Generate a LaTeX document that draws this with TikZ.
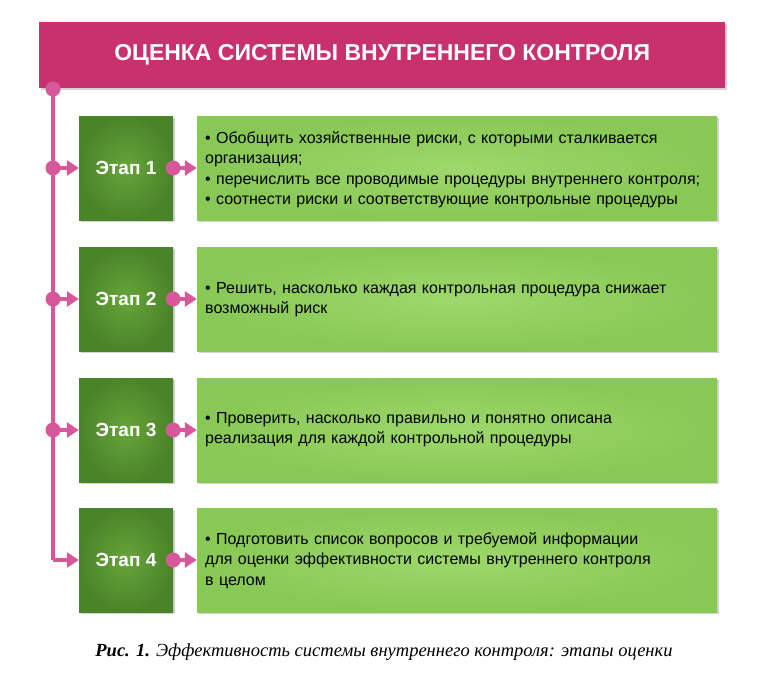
\documentclass[tikz,border=0pt]{standalone}
\usepackage{fontspec}
\setmainfont{Liberation Sans}
\newfontfamily\capfont{Liberation Serif}
\usetikzlibrary{shadows,arrows.meta}
\definecolor{pinkc}{HTML}{C8306E}
\definecolor{linec}{HTML}{D6589A}
\definecolor{dkgreen}{HTML}{4A8428}
\definecolor{dkgreenin}{HTML}{66A53A}
\definecolor{ltgreen}{HTML}{88C854}
\definecolor{ltgreenin}{HTML}{9ED86C}
\begin{document}
\begin{tikzpicture}[x=1pt,y=-1pt,
  stagebox/.style={minimum width=94pt,minimum height=104pt,inner sep=0pt,
    inner color=dkgreenin,outer color=dkgreen,text=white,font=\bfseries\fontsize{19}{22}\selectfont,
    drop shadow={opacity=0.35,shadow xshift=2pt,shadow yshift=-2pt}},
  infobox/.style={minimum width=520pt,minimum height=104pt,inner sep=0pt,
    inner color=ltgreenin,outer color=ltgreen,
    drop shadow={opacity=0.35,shadow xshift=2pt,shadow yshift=-2pt}},
  infotext/.style={anchor=north west,text width=510pt,align=left,inner sep=0pt,
    font=\fontsize{16}{20.5}\selectfont},
  conn/.style={linec,line width=4pt},
  dot/.style={circle,fill=linec,inner sep=0pt,minimum size=15pt},
  tip/.style={-{Triangle[length=12pt,width=15pt]}}]
\useasboundingbox (0,0) rectangle (768,678);
\node[fill=pinkc,minimum width=686pt,minimum height=66pt,inner sep=0pt,anchor=north west,
  drop shadow={opacity=0.35,shadow xshift=2pt,shadow yshift=-2pt},
  text=white,font=\bfseries\fontsize{23}{26}\selectfont] (title) at (39,22) {ОЦЕНКА СИСТЕМЫ ВНУТРЕННЕГО КОНТРОЛЯ};
\coordinate (top) at (53,89);
\node[stagebox] (s1) at (126,168) {Этап 1};
\node[stagebox] (s2) at (126,299) {Этап 2};
\node[stagebox] (s3) at (126,430) {Этап 3};
\node[stagebox] (s4) at (126,560) {Этап 4};
\node[infobox] (b1) at (457,168) {};
\node[infobox] (b2) at (457,299) {};
\node[infobox] (b3) at (457,430) {};
\node[infobox] (b4) at (457,560) {};
\node[infotext] (t1) at (205,131) {• Обобщить хозяйственные риски, с которыми сталкивается\\организация;\\• перечислить все проводимые процедуры внутреннего контроля;\\• соотнести риски и соответствующие контрольные процедуры};
\node[infotext] (t2) at (205,282) {• Решить, насколько каждая контрольная процедура снижает\\возможный риск};
\node[infotext] (t3) at (205,412) {• Проверить, насколько правильно и понятно описана\\реализация для каждой контрольной процедуры};
\node[infotext] (t4) at (205,532) {• Подготовить список вопросов и требуемой информации\\для оценки эффективности системы внутреннего контроля\\в целом};
\coordinate (c4) at (53,560);
\draw[conn] (top) -- (c4);
\draw[conn,tip] (c4) -- (s4.west);
\foreach \i in {1,2,3}{
  \coordinate (l\i) at (53,0 |- s\i.west);
  \draw[conn,tip] (l\i) -- (s\i.west);
  \node[dot] at (l\i) {};
}
\foreach \i in {1,2,3,4}{
  \draw[conn,tip] (s\i.east) -- (b\i.west);
  \node[dot] at (s\i.east) {};
}
\node[dot] at (top) {};
\node[font=\capfont\itshape\fontsize{18.5}{22}\selectfont] (cap) at (384,652) {\textbf{Рис. 1.} Эффективность системы внутреннего контроля: этапы оценки};
\end{tikzpicture}
\end{document}
